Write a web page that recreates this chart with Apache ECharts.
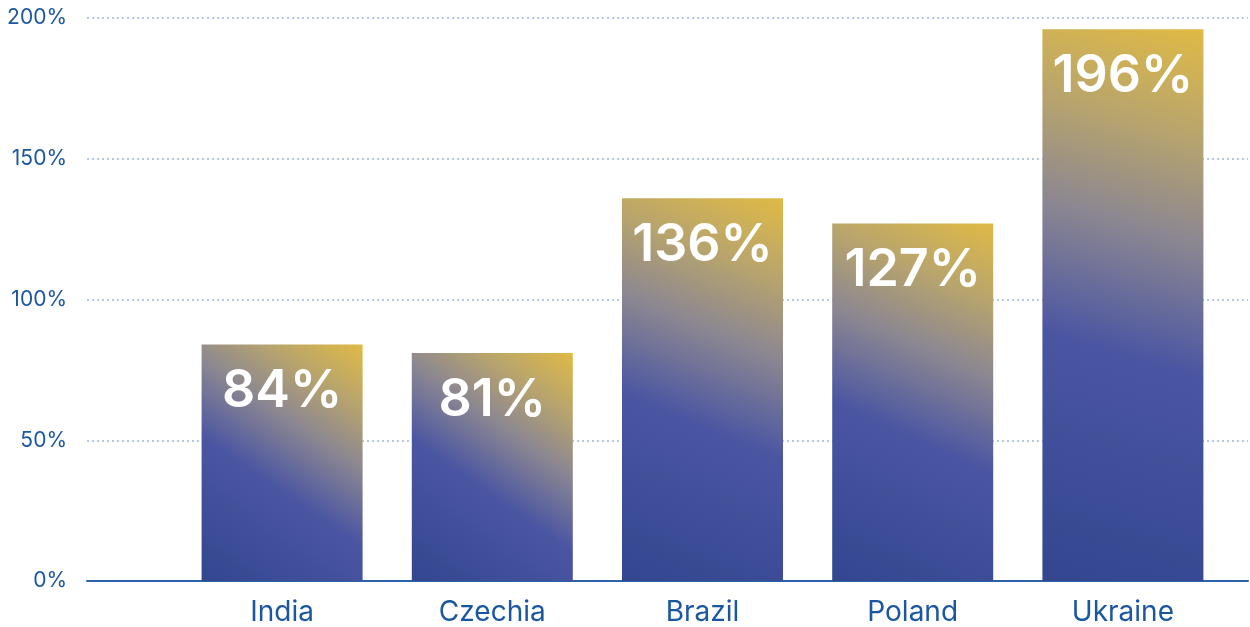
<!DOCTYPE html>
<html>
<head>
<meta charset="utf-8">
<script src="https://cdn.jsdelivr.net/npm/echarts@6/dist/echarts.min.js"></script>
<style>html,body{margin:0;padding:0;background:#fff}#c{width:1250px;height:627px}</style>
</head>
<body>
<div id="c"></div>
<script>
const categories = ['India', 'Czechia', 'Brazil', 'Poland', 'Ukraine'];
const values = [84, 81, 136, 127, 196];
const yTicks = [0, 50, 100, 150, 200];

const chart = echarts.init(document.getElementById('c'));
const textColor = '#1b56a0';
const barGradient = new echarts.graphic.LinearGradient(0, 1, 1, 0, [
  {offset: 0, color: '#33468f'},
  {offset: 0.42, color: '#4b56a2'},
  {offset: 0.64, color: '#8c8791'},
  {offset: 0.82, color: '#b9a56c'},
  {offset: 1, color: '#e0ba45'}
]);
chart.setOption({
  animation: false,
  grid: [
    {left: 87, right: 2, top: 18, bottom: 46},
    {left: 177, right: 22, top: 18, bottom: 46}
  ],
  xAxis: [
    {gridIndex: 0, type: 'value', min: 0, max: 1,
     axisLine: {show: true, onZero: false, lineStyle: {color: '#2a64a8', width: 2}},
     axisTick: {show: false}, axisLabel: {show: false}, splitLine: {show: false}},
    {gridIndex: 1, type: 'category', data: categories,
     axisLine: {show: false}, axisTick: {show: false},
     axisLabel: {color: textColor, fontSize: 28, margin: 18, fontFamily: 'Inter, "Noto Sans", sans-serif'}}
  ],
  yAxis: [
    {gridIndex: 0, type: 'value', min: yTicks[0], max: yTicks[yTicks.length - 1], interval: 50,
     axisLine: {show: false}, axisTick: {show: false},
     axisLabel: {color: textColor, fontSize: 21, margin: 20, formatter: v => v + '%', fontFamily: 'Inter, "Noto Sans", sans-serif'},
     splitLine: {show: true, lineStyle: {color: '#9fb8dc', type: [2, 3], width: 1.5}}},
    {gridIndex: 1, type: 'value', min: yTicks[0], max: yTicks[yTicks.length - 1], interval: 50,
     show: false, splitLine: {show: false}}
  ],
  series: [{
    type: 'bar',
    xAxisIndex: 1, yAxisIndex: 1,
    data: values,
    barWidth: 161,
    itemStyle: {color: barGradient},
    label: {
      show: true, position: 'insideTop', distance: 21,
      formatter: p => p.value + '%',
      color: '#ffffff', fontSize: 52, fontWeight: 600,
      fontFamily: 'Inter, "Noto Sans", sans-serif'
    }
  }]
});
</script>
</body>
</html>
